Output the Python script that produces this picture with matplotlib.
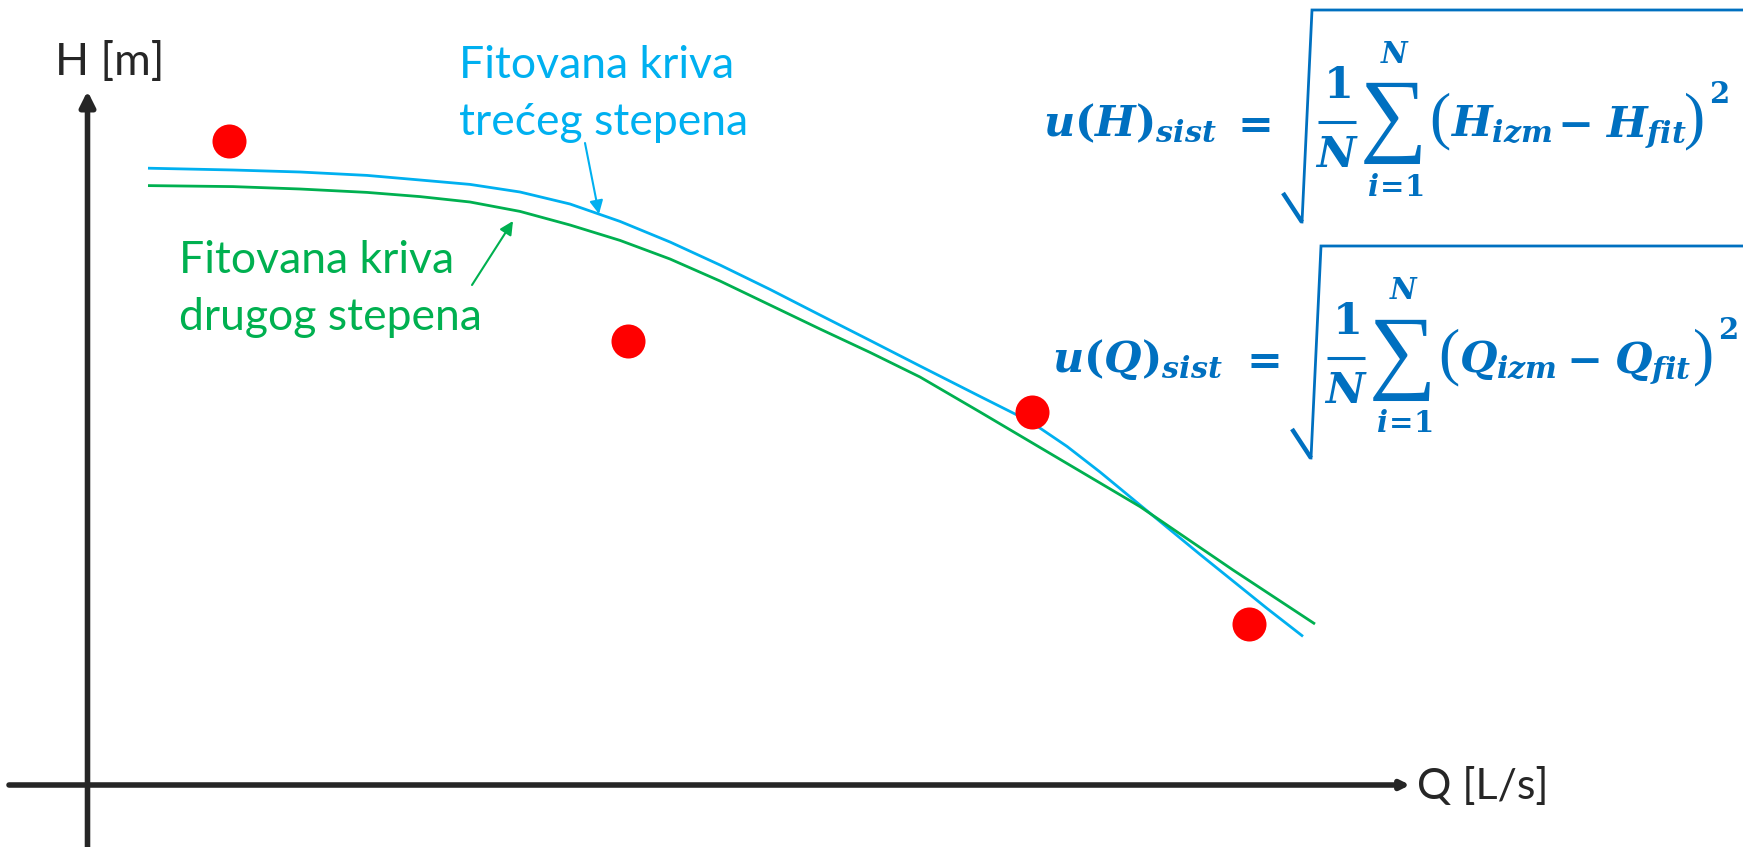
import matplotlib.pyplot as plt
from matplotlib.lines import Line2D

# measured points (Q in L/s, H in m)
Q_meas = [2.83, 10.80, 18.88, 23.22]
H_meas = [32.20, 22.20, 18.65, 8.05]

# third degree fit
Q_fit3 = [1.21, 2.91, 4.25, 5.59, 6.65, 7.65, 8.65, 9.65, 10.65, 11.65, 12.65, 13.65,
          14.65, 15.65, 16.65, 17.85, 18.87, 19.59, 20.25, 21.05, 22.25, 23.59, 24.31]
H_fit3 = [30.84, 30.75, 30.65, 30.48, 30.25, 30.03, 29.65, 29.05, 28.18, 27.15, 26.00, 24.78,
          23.50, 22.23, 20.95, 19.43, 18.15, 16.93, 15.65, 14.00, 11.53, 8.83, 7.43]

# second degree fit
Q_fit2 = [1.21, 2.91, 4.25, 5.59, 6.65, 7.65, 8.65, 9.65, 10.65, 11.65, 12.65, 13.65,
          14.65, 15.65, 16.65, 17.85, 21.05, 22.91, 24.55]
H_fit2 = [29.97, 29.92, 29.80, 29.63, 29.42, 29.15, 28.68, 28.00, 27.23, 26.30, 25.20, 24.00,
          22.80, 21.63, 20.40, 18.65, 13.92, 10.75, 8.05]

label_fit3 = ["Fitovana kriva", "trećeg stepena"]
label_fit2 = ["Fitovana kriva", "drugog stepena"]
x_label = "Q [L/s]"
y_label = "H [m]"
formula_vars = ["H", "Q"]

AXIS_COL = "#262626"
BLUE = "#00B0F0"
GREEN = "#00B050"
RED = "#FF0000"
MATH_BLUE = "#0070C0"

plt.rcParams["font.family"] = ["Lato", "DejaVu Sans"]
plt.rcParams["mathtext.fontset"] = "custom"
plt.rcParams["mathtext.rm"] = "DejaVu Serif:bold"
plt.rcParams["mathtext.it"] = "DejaVu Serif:italic:bold"
plt.rcParams["mathtext.bf"] = "DejaVu Serif:bold"

W, H = 1743, 847
fig = plt.figure(figsize=(W / 100, H / 100), dpi=100)
ax = fig.add_axes([0, 0, 1, 1])
ax.set_xlim(-1.75, 33.11)
ax.set_ylim(-3.1, 39.25)
ax.axis("off")


def fpos(x, y):
    # pixel position (from top-left) -> figure fraction
    return x / W, 1 - y / H


# axes with arrows
ax.annotate("", xy=(0, 34.7), xytext=(0, -3.1),
            arrowprops=dict(arrowstyle="-|>,head_length=0.9,head_width=0.45",
                            lw=4, color=AXIS_COL, shrinkA=0, shrinkB=0,
                            mutation_scale=10))
ax.annotate("", xy=(26.45, 0), xytext=(-1.57, 0),
            arrowprops=dict(arrowstyle="-|>,head_length=0.5,head_width=0.25",
                            lw=4, color=AXIS_COL, shrinkA=0, shrinkB=0,
                            mutation_scale=10))
fig.text(*fpos(55, 75), y_label, fontsize=32, color=AXIS_COL, va="baseline")
fig.text(*fpos(1417, 799), x_label, fontsize=31, color=AXIS_COL, va="baseline")

# curves and points
ax.plot(Q_fit3, H_fit3, color=BLUE, lw=2, solid_capstyle="butt", zorder=3)
ax.plot(Q_fit2, H_fit2, color=GREEN, lw=2, solid_capstyle="butt", zorder=3)
ax.plot(Q_meas, H_meas, "o", color=RED, markersize=24.5, markeredgewidth=0, zorder=4)

# curve labels
for i, line in enumerate(label_fit3):
    fig.text(*fpos(459, 77.7 + 57.3 * i), line, fontsize=32, color=BLUE, va="baseline")
for i, line in enumerate(label_fit2):
    fig.text(*fpos(179, 273.3 + 56.7 * i), line, fontsize=32, color=GREEN, va="baseline")

ax.annotate("", xy=(10.23, 28.55), xytext=(9.95, 32.1),
            arrowprops=dict(arrowstyle="-|>,head_length=0.8,head_width=0.4",
                            lw=1.5, color=BLUE, shrinkA=0, shrinkB=0,
                            mutation_scale=10))
ax.annotate("", xy=(8.51, 28.2), xytext=(7.69, 25.0),
            arrowprops=dict(arrowstyle="-|>,head_length=0.8,head_width=0.4",
                            lw=1.5, color=GREEN, shrinkA=0, shrinkB=0,
                            mutation_scale=10))


def fig_line(xs, ys, lw, **kw):
    pts = [fpos(x, y) for x, y in zip(xs, ys)]
    fig.add_artist(Line2D([p[0] for p in pts], [p[1] for p in pts], lw=lw,
                          color=MATH_BLUE, transform=fig.transFigure, **kw))


def draw_formula(var, dx, dy):
    big = dict(color=MATH_BLUE, fontsize=31)
    small = dict(color=MATH_BLUE, fontsize=21)
    serif = ["Liberation Serif", "DejaVu Serif"]
    fig.text(*fpos(1043 + dx, 136 + dy), rf"$u({var})_{{sist}}$",
             ha="left", va="baseline", **big)
    fig.text(*fpos(1249 + dx, 136 + dy), r"$=$", ha="center", va="baseline", **big)
    # 1/N
    fig.text(*fpos(1337 + dx, 98 + dy), r"$1$", ha="center", va="baseline", **big)
    fig_line([1318 + dx, 1356 + dx], [122 + dy, 122 + dy], 2.2, solid_capstyle="butt")
    fig.text(*fpos(1337 + dx, 167 + dy), r"$N$", ha="center", va="baseline", **big)
    # sum with limits
    fig.text(*fpos(1393 + dx, 122 + dy), "\u2211", ha="center", va="center",
             color=MATH_BLUE, fontsize=68, family=serif)
    fig.text(*fpos(1395 + dx, 63 + dy), r"$N$", ha="center", va="baseline", **small)
    fig.text(*fpos(1395 + dx, 196 + dy), r"$i\!=\!1$", ha="center", va="baseline", **small)
    # (X_izm - X_fit)^2
    fig.text(*fpos(1429 + dx, 121 + dy), "(", ha="left", va="center",
             color=MATH_BLUE, fontsize=46, family=serif)
    fig.text(*fpos(1450 + dx, 136 + dy), rf"${var}_{{izm}}$",
             ha="left", va="baseline", **big)
    fig.text(*fpos(1574 + dx, 136 + dy), r"$-$", ha="center", va="baseline", **big)
    fig.text(*fpos(1605 + dx, 136 + dy), rf"${var}_{{fit}}$",
             ha="left", va="baseline", **big)
    fig.text(*fpos(1684 + dx, 121 + dy), ")", ha="left", va="center",
             color=MATH_BLUE, fontsize=46, family=serif)
    fig.text(*fpos(1709 + dx, 103 + dy), r"$2$", ha="left", va="baseline", **small)
    # radical sign
    fig_line([1283 + dx, 1302 + dx], [193 + dy, 222 + dy], 3.2, solid_capstyle="butt")
    fig_line([1302 + dx, 1312 + dx, W], [222 + dy, 10 + dy, 10 + dy], 2,
             solid_joinstyle="miter")


draw_formula(formula_vars[0], 0, 0)
draw_formula(formula_vars[1], 9, 236)

fig.savefig("out.png", dpi=100)
